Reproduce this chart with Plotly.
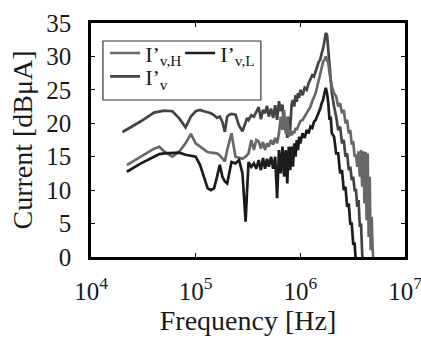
import plotly.graph_objects as go

# Frequency grid in kHz
freq_khz = [20, 22, 30, 40, 45, 50, 60, 70, 80, 90, 100, 110, 120, 130, 140, 150, 160, 170, 180, 190,
            200, 210, 220, 240, 260, 280, 300, 310, 320, 340, 360, 380, 400, 420, 440, 460, 480, 500,
            525, 550, 575, 600, 625, 650, 675, 700, 725, 750, 775, 800, 825, 850, 875, 900, 925, 950, 975,
            1000, 1050, 1100, 1150, 1200, 1250, 1300, 1350, 1400, 1450, 1500, 1550, 1600, 1650, 1700, 1750,
            1800, 1850, 1900, 1950, 2000, 2100, 2200, 2300, 2400, 2500, 2600, 2700, 2800, 2900, 3000,
            3100, 3200, 3300, 3400, 3500, 3600, 3700, 3800, 3900, 4000, 4100, 4200, 4300, 4400, 4500,
            4600, 4700, 4800, 4900, 5000]

# I'v (top curve)
i_v = [18.7, None, 20.3, 21.6, 21.8, 21.9, 21.8, 20.7, 19.4, 21.0, 21.8, 22.0, 21.8, 21.6, 21.5, 21.2, 20.8, 21.0, 20.2, 18.7,
       21.0, 21.3, 21.4, 21.3, 19.6, 18.8, 20.3, 20.8, 20.5, 21.2, 21.0, 21.8, 22.4, 20.6, 22.0, 21.5, 22.6, 21.0,
       22.2, 20.8, 22.7, 20.5, 23.3, 21.8, 22.8, 19.0, 20.5, 17.8, 21.0, 19.0, 22.8, 23.5, 22.5, 24.2, 23.2, 24.5, 23.8,
       25.0, 24.2, 25.3, 25.0, 26.0, 26.5, 27.2, 27.0, 28.0, 28.5, 29.2, 29.5, 30.5, 31.2, 32.3, 33.5,
       33.2, 31.0, 28.0, 26.0, 24.5, 22.5, 21.0, 19.0, 19.5, 17.0, 17.5, 15.0, 15.5, 13.0, 13.5,
       11.5, 12.0, 10.0, 10.0, 7.5, 8.5, 4.5, 5.0, 0.5, -2.0, None, None, None, None, None,
       None, None, None, None, None]

# I'v,H (middle curve)
i_vh = [None, 13.75, 15.0, 16.2, 16.5, 15.8, 15.0, 15.8, 17.0, 18.4, 17.0, 16.5, 16.0, 15.7, 15.6, 15.5, 15.5, 15.2, 14.7, 14.3,
        16.0, 17.5, 18.5, 15.0, 14.8, 14.7, 15.0, 15.2, 15.5, 17.5, 16.0, 17.5, 17.3, 16.2, 17.2, 16.0, 17.0, 16.5,
        17.5, 16.8, 17.8, 17.0, 18.5, 21.0, 19.0, 22.0, 18.5, 21.0, 18.0, 19.0, 18.2, 18.8, 18.5, 19.3, 19.0, 19.5, 19.8,
        20.3, 20.5, 21.0, 21.5, 22.0, 22.5, 23.3, 24.0, 24.5, 25.5, 26.5, 27.2, 28.0, 29.2, 29.5, 30.0,
        29.5, 29.0, 27.5, 26.5, 25.5, 24.5, 24.0, 22.5, 23.0, 21.5, 22.0, 20.0, 20.5, 18.5, 19.0,
        16.8, 17.3, 15.0, 15.3, 13.5, 15.8, 12.0, 16.0, 10.5, 15.8, 8.0, 15.7, 5.5, 15.5, 3.0,
        12.0, 1.0, 6.0, 1.5, -1.0]

# I'v,L (bottom curve)
i_vl = [None, 12.75, 14.0, 15.0, 15.4, 15.5, 15.6, 15.6, 15.3, 15.2, 15.0, 13.8, 12.0, 10.3, 10.0, 10.3, 12.0, 13.8, 12.0, 11.3,
        11.0, 12.5, 14.2, 14.0, 14.5, 12.5, 5.3, 10.0, 14.2, 13.5, 14.0, 13.2, 14.5, 13.0, 14.8, 13.2, 14.7, 13.5,
        15.0, 13.2, 15.0, 8.8, 16.0, 12.5, 16.5, 12.0, 16.0, 11.0, 16.5, 13.0, 16.5, 13.5, 17.0, 15.0, 17.5, 16.0, 18.0,
        17.0, 18.5, 17.8, 19.0, 18.5, 19.5, 19.3, 20.2, 20.5, 21.0, 21.5, 22.2, 23.0, 23.5, 24.5, 25.3,
        24.5, 23.0, 20.5, 21.0, 18.5, 18.0, 15.5, 15.5, 12.5, 13.0, 10.0, 10.5, 7.5, 8.0, 5.0,
        5.0, 2.0, 2.0, -1.0, None, None, None, None, None, None, None, None, None, None, None,
        None, None, None, None, None]

freq_hz = [f * 1000 for f in freq_khz]

x_tickvals = [1e4, 1e5, 1e6, 1e7]
x_ticktext = ["10<sup>4</sup>", "10<sup>5</sup>", "10<sup>6</sup>", "10<sup>7</sup>"]

FONT = "Liberation Serif, Times New Roman, serif"
TXT = "#1a1a1a"

fig = go.Figure()
fig.add_trace(go.Scatter(x=freq_hz, y=i_v, mode="lines", name="I’<sub>v</sub>",
                         line=dict(color="#444444", width=2.7), connectgaps=True, legend="legend2"))
fig.add_trace(go.Scatter(x=freq_hz, y=i_vh, mode="lines", name="I’<sub>v,H</sub>",
                         line=dict(color="#686868", width=2.7), connectgaps=False, legend="legend"))
fig.add_trace(go.Scatter(x=freq_hz, y=i_vl, mode="lines", name="I’<sub>v,L</sub>",
                         line=dict(color="#1c1c1c", width=2.7), connectgaps=False, legend="legend"))

fig.update_layout(
    width=421, height=347,
    margin=dict(l=91, r=16, t=23, b=90, autoexpand=False),
    paper_bgcolor="white", plot_bgcolor="white",
    font=dict(family=FONT, color=TXT, size=22),
    showlegend=True,
    legend=dict(orientation="h", x=0.045, y=0.871, xanchor="left", yanchor="middle",
                bgcolor="rgba(0,0,0,0)", borderwidth=0, font=dict(family=FONT, size=22, color=TXT),
                traceorder="normal", itemwidth=30, entrywidth=30, entrywidthmode="pixels"),
    legend2=dict(orientation="h", x=0.045, y=0.771, xanchor="left", yanchor="middle",
                 bgcolor="rgba(0,0,0,0)", borderwidth=0, font=dict(family=FONT, size=22, color=TXT),
                 itemwidth=30),
    shapes=[dict(type="rect", xref="paper", yref="paper", x0=0.038, x1=0.541, y0=0.671, y1=0.923,
                 line=dict(color="#333333", width=1.2), fillcolor="rgba(0,0,0,0)")],
)

fig.update_xaxes(type="log", range=[4, 7], tickvals=x_tickvals, ticktext=x_ticktext,
                 showline=True, linecolor="black", linewidth=2.6, mirror="ticks",
                 ticks="inside", ticklen=4, tickwidth=1.2, tickcolor="black",
                 showgrid=False, zeroline=False, ticklabeloverflow="allow", automargin=False,
                 tickfont=dict(family=FONT, size=25, color=TXT), ticklabelstandoff=10,
                 title=dict(text="Frequency [Hz]", font=dict(family=FONT, size=28, color=TXT), standoff=4))
fig.update_yaxes(range=[0, 35], dtick=5, tick0=0,
                 showline=True, linecolor="black", linewidth=2.6, mirror="ticks",
                 ticks="inside", ticklen=4, tickwidth=1.2, tickcolor="black",
                 showgrid=False, zeroline=False, automargin=False,
                 tickfont=dict(family=FONT, size=25, color=TXT), ticklabelstandoff=12,
                 title=dict(text="Current [dBμA]", font=dict(family=FONT, size=28, color=TXT), standoff=6))

fig.write_html("out.html")
